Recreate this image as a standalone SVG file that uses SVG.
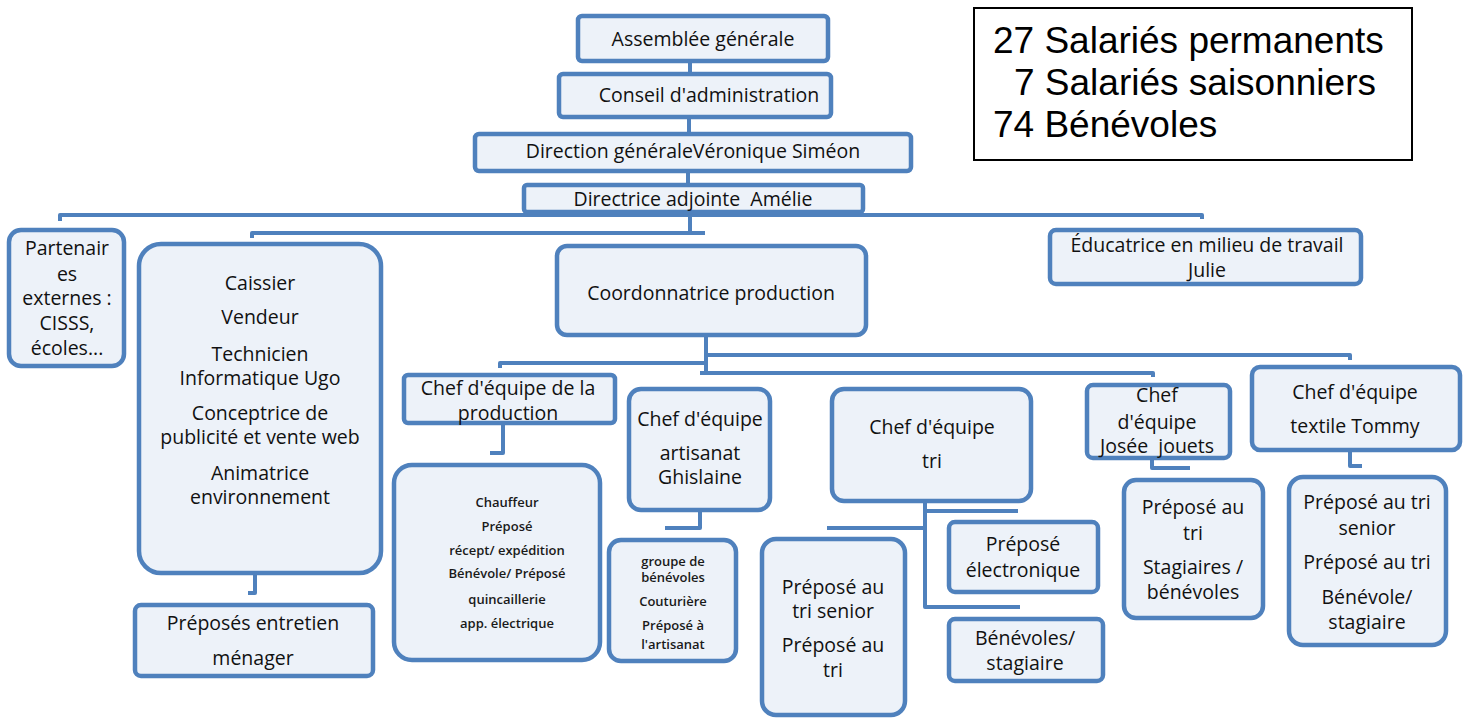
<svg xmlns="http://www.w3.org/2000/svg" width="1468" height="719" viewBox="0 0 1468 719">
<style>
.box{fill:#EDF2F9;stroke:#4F81BD;stroke-width:4.5}
.t{font-family:"Open Sans","Noto Sans",sans-serif;font-size:19.5px;font-weight:500;fill:#111;text-anchor:middle}
.s{font-family:"Open Sans","Noto Sans",sans-serif;font-size:13px;font-weight:600;fill:#1A1A1A;text-anchor:middle}
.c{fill:none;stroke:#4F81BD;stroke-width:4;stroke-linejoin:round}
.sum{font-family:"Liberation Sans",Arial,sans-serif;font-size:37px;fill:#000}
</style>
<rect width="1468" height="719" fill="#fff"/>
<g id="connectors">
<path class="c" d="M690,62 V74"/>
<path class="c" d="M689,118 V134"/>
<path class="c" d="M688,172 V185"/>
<path class="c" d="M60,221 V215 H1202 V219"/>
<path class="c" d="M690,213 V233 H705"/>
<path class="c" d="M252,238 V233 H690"/>
<path class="c" d="M255,575 V593 H248"/>
<path class="c" d="M706,337 V375"/>
<path class="c" d="M706,355 H1350 V360"/>
<path class="c" d="M500,368 V363 H706"/>
<path class="c" d="M700,373 H1153 V377"/>
<path class="c" d="M503,425 V453 H490"/>
<path class="c" d="M700,512 V528 H665"/>
<path class="c" d="M925,503 V607 H1020"/>
<path class="c" d="M925,511 H1018"/>
<path class="c" d="M827,528 H925"/>
<path class="c" d="M1152,460 V468 H1190"/>
<path class="c" d="M1350,452 V466 H1362"/>
</g>
<g id="summary">
<rect x="974" y="8" width="438" height="152" fill="#fff" stroke="#000" stroke-width="2"/>
<text class="sum" x="993" y="53">27 Salariés permanents</text>
<text class="sum" x="1014" y="95">7 Salariés saisonniers</text>
<text class="sum" x="993" y="137">74 Bénévoles</text>
</g>
<g id="assemblee">
<rect class="box" x="578" y="16" width="250" height="45" rx="4"/>
<text class="t" x="703" y="46">Assemblée générale</text>
</g>
<g id="conseil">
<rect class="box" x="559" y="74" width="272" height="43" rx="4"/>
<text class="t" x="709" y="102">Conseil d'administration</text>
</g>
<g id="direction">
<rect class="box" x="475" y="134" width="436" height="37" rx="4"/>
<text class="t" x="693" y="158">Direction généraleVéronique Siméon</text>
</g>
<g id="directrice">
<rect class="box" x="524" y="185" width="339" height="27" rx="3"/>
<text class="t" x="693" y="206" xml:space="preserve">Directrice adjointe  Amélie</text>
</g>
<g id="partenaires">
<rect class="box" x="9" y="230" width="115" height="136" rx="12"/>
<text class="t"><tspan x="67" y="255">Partenair</tspan><tspan x="67" y="281">es</tspan><tspan x="67" y="305">externes :</tspan><tspan x="67" y="330">CISSS,</tspan><tspan x="67" y="355">écoles...</tspan></text>
</g>
<g id="caissier">
<rect class="box" x="139" y="244" width="242" height="329" rx="22"/>
<text class="t"><tspan x="260" y="290">Caissier</tspan><tspan x="260" y="324">Vendeur</tspan><tspan x="260" y="361">Technicien</tspan><tspan x="260" y="385">Informatique Ugo</tspan><tspan x="260" y="420">Conceptrice de</tspan><tspan x="260" y="444">publicité et vente web</tspan><tspan x="260" y="480">Animatrice</tspan><tspan x="260" y="504">environnement</tspan></text>
</g>
<g id="entretien">
<rect class="box" x="135" y="605" width="238" height="71" rx="6"/>
<text class="t"><tspan x="253" y="630">Préposés entretien</tspan><tspan x="253" y="665">ménager</tspan></text>
</g>
<g id="coordonnatrice">
<rect class="box" x="557" y="246" width="309" height="89" rx="10"/>
<text class="t" x="711" y="300">Coordonnatrice production</text>
</g>
<g id="educatrice">
<rect class="box" x="1050" y="230" width="311" height="54" rx="6"/>
<text class="t"><tspan x="1207" y="252">Éducatrice en milieu de travail</tspan><tspan x="1207" y="277">Julie</tspan></text>
</g>
<g id="chef-production">
<rect class="box" x="404" y="375" width="211" height="48" rx="4"/>
<text class="t"><tspan x="508" y="395">Chef d'équipe de la</tspan><tspan x="508" y="420">production</tspan></text>
</g>
<g id="production-postes">
<rect class="box" x="394" y="465" width="206" height="195" rx="18"/>
<text class="s"><tspan x="507" y="507">Chauffeur</tspan><tspan x="507" y="531">Préposé</tspan><tspan x="507" y="555">récept/ expédition</tspan><tspan x="507" y="578">Bénévole/ Préposé</tspan><tspan x="507" y="604">quincaillerie</tspan><tspan x="507" y="628">app. électrique</tspan></text>
</g>
<g id="chef-artisanat">
<rect class="box" x="629" y="389" width="141" height="121" rx="12"/>
<text class="t"><tspan x="700" y="426">Chef d'équipe</tspan><tspan x="700" y="460">artisanat</tspan><tspan x="700" y="484">Ghislaine</tspan></text>
</g>
<g id="artisanat-postes">
<rect class="box" x="609" y="540" width="127" height="121" rx="12"/>
<text class="s"><tspan x="673" y="566">groupe de</tspan><tspan x="673" y="582">bénévoles</tspan><tspan x="673" y="606">Couturière</tspan><tspan x="673" y="630">Préposé à</tspan><tspan x="673" y="649">l'artisanat</tspan></text>
</g>
<g id="chef-tri">
<rect class="box" x="832" y="389" width="199" height="112" rx="12"/>
<text class="t"><tspan x="932" y="434">Chef d'équipe</tspan><tspan x="932" y="468">tri</tspan></text>
</g>
<g id="tri-senior">
<rect class="box" x="762" y="539" width="143" height="176" rx="14"/>
<text class="t"><tspan x="833" y="594">Préposé au</tspan><tspan x="833" y="618">tri senior</tspan><tspan x="833" y="652">Préposé au</tspan><tspan x="833" y="677">tri</tspan></text>
</g>
<g id="tri-electronique">
<rect class="box" x="949" y="522" width="149" height="70" rx="6"/>
<text class="t"><tspan x="1023" y="551">Préposé</tspan><tspan x="1023" y="577">électronique</tspan></text>
</g>
<g id="tri-benevoles">
<rect class="box" x="949" y="619" width="154" height="62" rx="6"/>
<text class="t"><tspan x="1025" y="645">Bénévoles/</tspan><tspan x="1025" y="670">stagiaire</tspan></text>
</g>
<g id="chef-jouets">
<rect class="box" x="1087" y="385" width="143" height="73" rx="6"/>
<text class="t"><tspan x="1157" y="402">Chef</tspan><tspan x="1157" y="429">d'équipe</tspan><tspan x="1157" y="453" xml:space="preserve">Josée  jouets</tspan></text>
</g>
<g id="jouets-postes">
<rect class="box" x="1124" y="480" width="139" height="138" rx="12"/>
<text class="t"><tspan x="1193" y="514">Préposé au</tspan><tspan x="1193" y="540">tri</tspan><tspan x="1193" y="574">Stagiaires /</tspan><tspan x="1193" y="599">bénévoles</tspan></text>
</g>
<g id="chef-textile">
<rect class="box" x="1252" y="367" width="208" height="83" rx="8"/>
<text class="t"><tspan x="1355" y="399">Chef d'équipe</tspan><tspan x="1355" y="433">textile Tommy</tspan></text>
</g>
<g id="textile-postes">
<rect class="box" x="1289" y="477" width="157" height="168" rx="14"/>
<text class="t"><tspan x="1367" y="509">Préposé au tri</tspan><tspan x="1367" y="535">senior</tspan><tspan x="1367" y="569">Préposé au tri</tspan><tspan x="1367" y="604">Bénévole/</tspan><tspan x="1367" y="629">stagiaire</tspan></text>
</g>
</svg>
